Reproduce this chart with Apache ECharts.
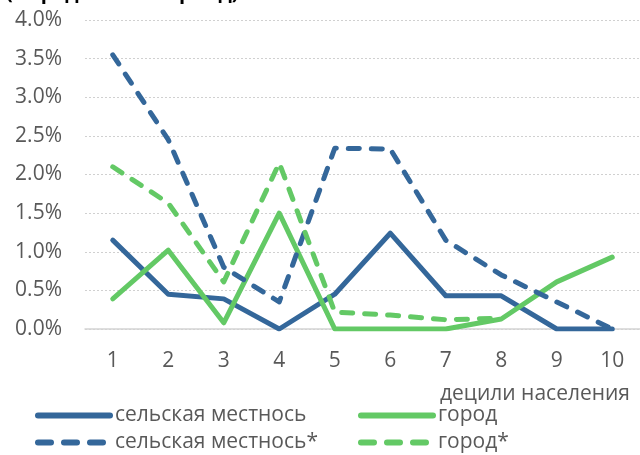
<!DOCTYPE html>
<html>
<head>
<meta charset="utf-8">
<script src="https://cdn.jsdelivr.net/npm/echarts@6/dist/echarts.min.js"></script>
<style>
  html, body { margin: 0; padding: 0; background: #fff; }
  #chart { width: 640px; height: 455px; }
</style>
</head>
<body>
<div id="chart"></div>
<script>
// Decile categories and shares (in %) for rural areas and cities
const deciles = ['1', '2', '3', '4', '5', '6', '7', '8', '9', '10'];
const rural = [1.15, 0.45, 0.39, 0.0, 0.45, 1.24, 0.43, 0.43, 0.0, 0.0];
const city = [0.39, 1.02, 0.08, 1.50, 0.0, 0.0, 0.0, 0.13, 0.61, 0.93];
const ruralStar = [3.55, 2.45, 0.80, 0.35, 2.34, 2.33, 1.15, 0.70, 0.35, 0.0];
const cityStar = [2.10, 1.63, 0.61, 2.15, 0.22, 0.18, 0.12, 0.14, null, null];
const yTicks = { min: 0, max: 4, step: 0.5 };

const BLUE = '#34679a';
const GREEN = '#63c965';
const FONT = '"Open Sans", "Noto Sans", sans-serif';
const LABEL = '#595959';
const FS = 21;

const names = ['сельская местнось', 'город', 'сельская местнось*', 'город*'];

function lineSeries(name, data, color, dashed) {
  return {
    name: name,
    type: 'line',
    data: data,
    symbol: 'none',
    connectNulls: false,
    lineStyle: {
      color: color,
      width: 5,
      type: dashed ? [11, 12] : 'solid',
      cap: 'round',
      join: 'round'
    },
    itemStyle: { color: color }
  };
}

function legendAt(name, left, top, dashed) {
  return {
    data: [name],
    left: left,
    top: top,
    itemWidth: 72,
    itemHeight: 14,
    itemGap: 4,
    itemStyle: { opacity: 0 },
    lineStyle: { width: 6, cap: 'round', type: dashed ? [13, 13] : 'solid' },
    textStyle: { fontFamily: FONT, fontSize: FS, color: LABEL },
    selectedMode: false
  };
}

const chart = echarts.init(document.getElementById('chart'));
chart.setOption({
  animation: false,
  title: {
    text: '(в среднем за период)',
    left: 1,
    top: -22,
    textStyle: { fontFamily: FONT, fontSize: 20, fontWeight: 'bold', color: '#000' }
  },
  grid: { left: 85, right: -4, top: 20, bottom: 126, containLabel: false },
  legend: [
    legendAt(names[0], 30, 400, false),
    legendAt(names[1], 353, 400, false),
    legendAt(names[2], 30, 427, true),
    legendAt(names[3], 353, 427, true)
  ],
  xAxis: {
    type: 'category',
    data: deciles,
    boundaryGap: true,
    axisLine: { lineStyle: { color: '#d4d4d4', width: 1.5 } },
    axisTick: { show: false },
    axisLabel: { fontFamily: FONT, fontSize: FS, color: LABEL, margin: 22 },
    name: 'децили населения',
    nameLocation: 'end',
    nameGap: -10,
    nameTextStyle: {
      fontFamily: FONT, fontSize: FS, color: LABEL,
      align: 'right', verticalAlign: 'top', padding: [55, 0, 0, 0]
    }
  },
  yAxis: {
    type: 'value',
    min: yTicks.min,
    max: yTicks.max,
    interval: yTicks.step,
    axisLine: { show: false },
    axisTick: { show: false },
    axisLabel: {
      fontFamily: FONT, fontSize: FS, color: LABEL, margin: 23,
      formatter: v => v.toFixed(1) + '%'
    },
    splitLine: { lineStyle: { color: '#d0d0d0', type: [2, 2], width: 1 } }
  },
  series: [
    lineSeries(names[0], rural, BLUE, false),
    lineSeries(names[1], city, GREEN, false),
    lineSeries(names[2], ruralStar, BLUE, true),
    lineSeries(names[3], cityStar, GREEN, true)
  ]
});
</script>
</body>
</html>
